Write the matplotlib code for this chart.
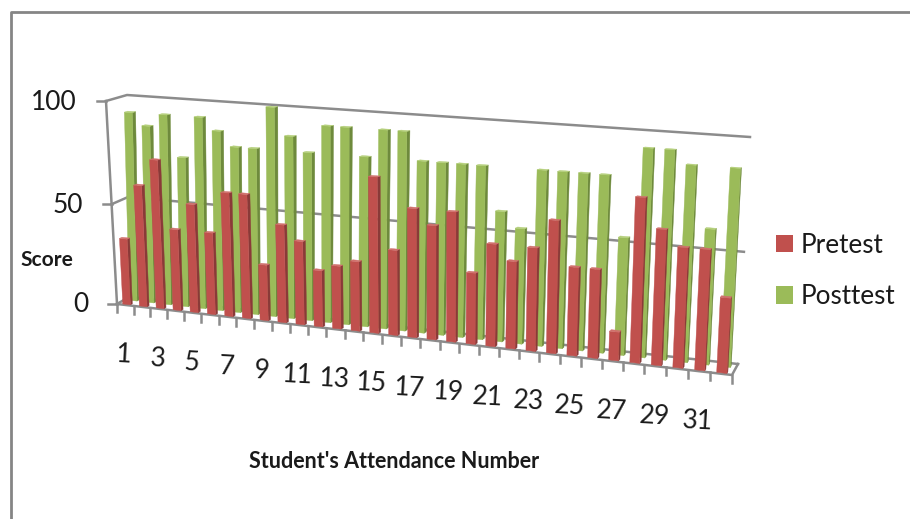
import matplotlib
matplotlib.use('Agg')
import matplotlib.pyplot as plt
import numpy as np
from matplotlib.collections import PolyCollection
from matplotlib.patches import Patch

plt.rcParams['font.family'] = ['Lato', 'DejaVu Sans']

students = list(range(1, 33))
pretest = [33, 60, 73, 40, 53, 40, 60, 60, 27, 47, 40, 27, 30, 33, 73, 40,
           60, 53, 60, 33, 47, 40, 47, 60, 40, 40, 13, 73, 60, 53, 53, 33]
posttest = [93, 87, 93, 73, 93, 87, 80, 80, 100, 87, 80, 93, 93, 80, 93, 93,
            80, 80, 80, 80, 60, 53, 80, 80, 80, 80, 53, 93, 93, 87, 60, 87]
value_ticks = [0, 50, 100]
series_names = ['Pretest', 'Posttest']

# front, side and top face colours
RED = ('#C0504D', '#8A3A38', '#D0706C')
GREEN = ('#9BBB59', '#6E8A3C', '#B4CF7A')
GREY = '#8C8C8C'
TEXT = '#1A1A1A'
LINE = 1.8


def homography(src, dst):
  # solve the 3x3 plane mapping from four corner pairs
  a, b = [], []
  for (x, y), (u, v) in zip(src, dst):
    a.append([x, y, 1, 0, 0, 0, -u * x, -u * y])
    a.append([0, 0, 0, x, y, 1, -v * x, -v * y])
    b += [u, v]
  return np.append(np.linalg.solve(np.array(a, float), np.array(b, float)), 1).reshape(3, 3)


n = len(students)
corners = [(0, 0), (n, 0), (n, 100), (0, 100)]
front_plane = homography(corners, [(117, 304), (732, 375), (744, 140), (106, 101)])
back_plane = homography(corners, [(129, 297), (738, 364), (750, 137), (127, 95)])


def apply_plane(h, x, v):
  p = h @ np.array([x, v, 1.0])
  return p[:2] / p[2]


def project(x, v, d=0.0):
  # d runs from the front edge of the floor (0) to the back wall (1)
  return (1 - d) * apply_plane(front_plane, x, v) + d * apply_plane(back_plane, x, v)


def draw_bars(ax, values, colors, d0, d1, zorder):
  fronts, sides, tops = [], [], []
  for i, val in enumerate(values):
    x0, x1 = i + 0.29, i + 0.75
    fronts.append([project(x0, 0, d0), project(x1, 0, d0), project(x1, val, d0), project(x0, val, d0)])
    sides.append([project(x1, 0, d0), project(x1, 0, d1), project(x1, val, d1), project(x1, val, d0)])
    tops.append([project(x0, val, d0), project(x1, val, d0), project(x1, val, d1), project(x0, val, d1)])
  for polys, color in ((sides, colors[1]), (fronts, colors[0]), (tops, colors[2])):
    ax.add_collection(PolyCollection(polys, facecolors=color, edgecolors=color, linewidths=0.3, zorder=zorder))


fig = plt.figure(figsize=(9.1, 5.19), dpi=100)
ax = fig.add_axes([0, 0, 1, 1])
ax.set_xlim(0, 910)
ax.set_ylim(519, 0)
ax.axis('off')

# chart border
ax.plot([11, 11, 910], [519, 12, 12], color='#858585', lw=2, zorder=1)

# walls and gridlines
for v in value_ticks:
  pts = np.array([project(0, v, 0), project(0, v, 1), project(n, v, 1)])
  ax.plot(pts[:, 0], pts[:, 1], color=GREY, lw=LINE, zorder=2)
  left = project(0, v, 0)
  ax.plot([left[0] - 9, left[0]], [left[1], left[1]], color=GREY, lw=LINE, zorder=2)
  ax.text(left[0] - 29, left[1] + 1, str(v), ha='right', va='center', fontsize=19, color=TEXT)

edge = np.array([project(0, 0, 0), project(0, 100, 0)])
ax.plot(edge[:, 0], edge[:, 1], color=GREY, lw=LINE, zorder=2)
floor = np.array([project(0, 0, 0), project(n, 0, 0), project(n, 0, 1)])
ax.plot(floor[:, 0], floor[:, 1], color=GREY, lw=LINE, zorder=2)

# category ticks and every second label
for i in range(n + 1):
  p = project(i, 0, 0)
  ax.plot([p[0], p[0]], [p[1], p[1] + 8], color=GREY, lw=LINE, zorder=2)
for i, s in enumerate(students):
  if i % 2 == 0:
    p = project(i + 0.5, 0, 0)
    ax.text(p[0] - 1, p[1] + 50, str(s), ha='center', va='center', fontsize=19,
            rotation=-3, color=TEXT)

draw_bars(ax, posttest, GREEN, 0.62, 0.78, 3)
draw_bars(ax, pretest, RED, 0.08, 0.24, 4)

ax.text(47, 260, 'Score', ha='center', va='center', fontsize=15, fontweight='bold', color=TEXT)
ax.text(394, 461, "Student's Attendance Number", ha='center', va='center', fontsize=15.5,
        fontweight='bold', color=TEXT)

handles = [Patch(facecolor=RED[0], label=series_names[0]), Patch(facecolor=GREEN[0], label=series_names[1])]
ax.legend(handles=handles, loc='center left', bbox_to_anchor=(776 / 910, 1 - 271 / 519), frameon=False,
          fontsize=18.8, handlelength=0.66, handleheight=0.66, handletextpad=0.3, labelspacing=1.02,
          labelcolor=TEXT, borderpad=0, borderaxespad=0)

fig.savefig('out.png', dpi=100)
